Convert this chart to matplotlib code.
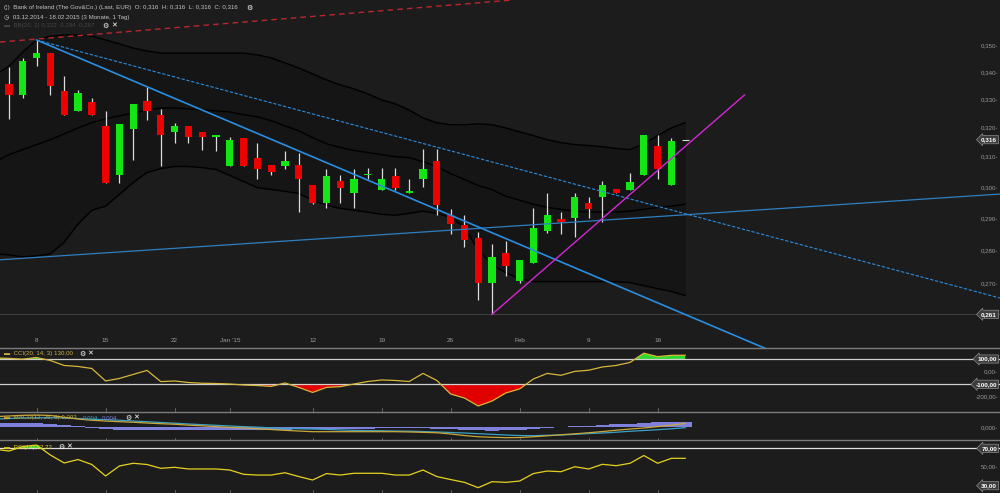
# Bank of Ireland daily candles with Bollinger bands, CCI, MACD and RSI panels
import numpy as np
import matplotlib
matplotlib.use('Agg')
import matplotlib.pyplot as plt
from matplotlib.lines import Line2D
from matplotlib.transforms import blended_transform_factory

plt.rcParams['font.family'] = ['Liberation Sans', 'DejaVu Sans']

nan = float('nan')

# trading days 03.12.2014 - 18.02.2015
dates = ['03.12.2014', '04.12.2014', '05.12.2014', '08.12.2014', '09.12.2014', '10.12.2014',
         '11.12.2014', '12.12.2014', '15.12.2014', '16.12.2014', '17.12.2014', '18.12.2014',
         '19.12.2014', '22.12.2014', '23.12.2014', '29.12.2014', '30.12.2014', '02.01.2015',
         '05.01.2015', '06.01.2015', '07.01.2015', '08.01.2015', '09.01.2015', '12.01.2015',
         '13.01.2015', '14.01.2015', '15.01.2015', '16.01.2015', '19.01.2015', '20.01.2015',
         '21.01.2015', '22.01.2015', '23.01.2015', '26.01.2015', '27.01.2015', '28.01.2015',
         '29.01.2015', '30.01.2015', '02.02.2015', '03.02.2015', '04.02.2015', '05.02.2015',
         '06.02.2015', '09.02.2015', '10.02.2015', '11.02.2015', '12.02.2015', '13.02.2015',
         '16.02.2015', '17.02.2015', '18.02.2015']

opens = [nan, 0.3358, 0.3318, 0.3456, 0.3475, 0.3333, 0.3259, 0.3294, 0.3206, 0.3040, 0.3198,
         0.3297, 0.3247, 0.3188, 0.3206, 0.3188, 0.3169, 0.3070, 0.3166, 0.3098, 0.3075,
         0.3070, 0.3075, 0.3006, 0.2948, 0.3020, 0.2980, 0.3040, 0.2991, 0.3037, 0.2980,
         0.3029, 0.3087, 0.2910, 0.2879, 0.2838, 0.2703, 0.2792, 0.2710, 0.2763, 0.2861,
         0.2897, 0.2900, 0.2948, 0.2970, 0.2996, 0.2991, 0.3039, 0.3140, 0.3009, 0.3160]
highs = [nan, 0.3422, 0.3454, 0.3523, 0.3475, 0.3388, 0.3336, 0.3308, 0.3259, 0.3215, 0.3286,
         0.3346, 0.3268, 0.3218, 0.3206, 0.3188, 0.3177, 0.3169, 0.3166, 0.3150, 0.3075,
         0.3120, 0.3115, 0.3006, 0.3061, 0.3039, 0.3061, 0.3065, 0.3065, 0.3065, 0.3029,
         0.3128, 0.3128, 0.2931, 0.2910, 0.2856, 0.2820, 0.2829, 0.2770, 0.2932, 0.2980,
         0.2920, 0.2980, 0.2970, 0.3020, 0.2996, 0.3047, 0.3177, 0.3177, 0.3166, 0.3160]
lows = [nan, 0.3232, 0.3308, 0.3425, 0.3318, 0.3247, 0.3259, 0.3247, 0.3014, 0.3014, 0.3090,
        0.3229, 0.3070, 0.3150, 0.3150, 0.3126, 0.3120, 0.3070, 0.3070, 0.3029, 0.3040,
        0.3059, 0.2920, 0.2945, 0.2932, 0.2948, 0.2932, 0.3026, 0.2991, 0.2991, 0.2980,
        0.3002, 0.2910, 0.2851, 0.2812, 0.2652, 0.2612, 0.2722, 0.2703, 0.2763, 0.2853,
        0.2851, 0.2843, 0.2900, 0.2888, 0.2980, 0.2991, 0.3039, 0.3029, 0.3009, 0.3160]
closes = [nan, 0.3318, 0.3443, 0.3475, 0.3349, 0.3247, 0.3326, 0.3247, 0.3014, 0.3215, 0.3286,
          0.3259, 0.3177, 0.3206, 0.3169, 0.3169, 0.3177, 0.3158, 0.3070, 0.3059, 0.3050,
          0.3089, 0.3029, 0.2948, 0.3037, 0.2998, 0.3028, 0.3042, 0.3026, 0.2998, 0.2988,
          0.3059, 0.2942, 0.2882, 0.2832, 0.2703, 0.2780, 0.2752, 0.2770, 0.2869, 0.2910,
          0.2890, 0.2969, 0.2931, 0.3007, 0.2980, 0.3018, 0.3177, 0.3059, 0.3157, 0.3160]

bb_upper = [0.3391, 0.3424, 0.3477, 0.3523, 0.3538, 0.3542, 0.3542, 0.3538, 0.3523, 0.3508, 0.3492,
            0.3481, 0.3473, 0.3473, 0.3473, 0.3473, 0.3473, 0.3473, 0.3473, 0.3466, 0.3455,
            0.3436, 0.3417, 0.3395, 0.3373, 0.3355, 0.3340, 0.3322, 0.3300, 0.3286, 0.3264,
            0.3236, 0.3219, 0.3212, 0.3212, 0.3215, 0.3212, 0.3201, 0.3187, 0.3174, 0.3160,
            0.3150, 0.3143, 0.3140, 0.3136, 0.3130, 0.3126, 0.3146, 0.3174, 0.3201, 0.3219]
bb_middle = [0.3085, 0.3109, 0.3126, 0.3143, 0.3160, 0.3180, 0.3201, 0.3219, 0.3233, 0.3243, 0.3254,
             0.3264, 0.3271, 0.3271, 0.3268, 0.3264, 0.3261, 0.3257, 0.3247, 0.3240, 0.3226,
             0.3208, 0.3191, 0.3167, 0.3146, 0.3133, 0.3123, 0.3116, 0.3109, 0.3102, 0.3099,
             0.3085, 0.3069, 0.3045, 0.3026, 0.3006, 0.2993, 0.2971, 0.2958, 0.2945, 0.2935,
             0.2929, 0.2923, 0.2920, 0.2920, 0.2920, 0.2923, 0.2929, 0.2935, 0.2939, 0.2945]
bb_lower = [0.2790, 0.2787, 0.2781, 0.2784, 0.2790, 0.2826, 0.2882, 0.2926, 0.2939, 0.2977, 0.3016,
            0.3049, 0.3062, 0.3069, 0.3069, 0.3065, 0.3059, 0.3039, 0.3019, 0.2999, 0.2993,
            0.2987, 0.2980, 0.2958, 0.2942, 0.2932, 0.2926, 0.2920, 0.2913, 0.2910, 0.2916,
            0.2923, 0.2916, 0.2903, 0.2872, 0.2802, 0.2757, 0.2733, 0.2715, 0.2707, 0.2707,
            0.2707, 0.2707, 0.2707, 0.2707, 0.2707, 0.2704, 0.2695, 0.2686, 0.2678, 0.2666]

cci = [109, 105, 99, 112, 88, 49, 41, 25, -74, -54, -22, 10, -79, -74, -86, -92, -94, -98,
       -106, -110, -117, -90, -125, -165, -125, -119, -98, -78, -66, -70, -78, -14, -70,
       -177, -209, -272, -233, -169, -137, -58, -14, -29, 2, 11, 37, 49, 73, 146, 119, 129, 130]

macd = [0.0080, 0.0085, 0.0090, 0.0092, 0.0089, 0.0075, 0.0062, 0.0053, 0.0047, 0.0042, 0.0038,
        0.0032, 0.0027, 0.0023, 0.0016, 0.0011, 0.0005, 0.0000, -0.0005, -0.0011, -0.0017,
        -0.0023, -0.0028, -0.0033, -0.0033, -0.0033, -0.0033, -0.0033, -0.0033, -0.0033, -0.0035,
        -0.0038, -0.0041, -0.0050, -0.0062, -0.0071, -0.0075, -0.0078, -0.0077, -0.0071, -0.0064,
        -0.0056, -0.0049, -0.0041, -0.0032, -0.0022, -0.0013, -0.0005, 0.0005, 0.0016, 0.0029]
macd_signal = [0.0062, 0.0066, 0.0070, 0.0071, 0.0072, 0.0070, 0.0066, 0.0061, 0.0057, 0.0053, 0.0047,
               0.0042, 0.0036, 0.0031, 0.0025, 0.0020, 0.0015, 0.0010, 0.0005, 0.0001, -0.0004,
               -0.0008, -0.0011, -0.0013, -0.0016, -0.0020, -0.0023, -0.0025, -0.0026, -0.0028, -0.0029,
               -0.0032, -0.0035, -0.0039, -0.0043, -0.0048, -0.0053, -0.0058, -0.0062, -0.0063, -0.0060,
               -0.0058, -0.0053, -0.0047, -0.0043, -0.0037, -0.0030, -0.0024, -0.0018, -0.0011, -0.0003]
macd_hist = [0.0030, 0.0030, 0.0030, 0.0030, 0.0025, 0.0015, 0.0010, -0.0005, -0.0015, -0.0020, -0.0020,
             -0.0020, -0.0020, -0.0020, -0.0020, -0.0020, -0.0020, -0.0020, -0.0020, -0.0020, -0.0020,
             -0.0018, -0.0015, -0.0015, -0.0015, -0.0010, -0.0010, -0.0010, -0.0008, -0.0005, -0.0003,
             -0.0005, -0.0010, -0.0015, -0.0020, -0.0023, -0.0025, -0.0023, -0.0018, -0.0010, -0.0003,
             0.0003, 0.0008, 0.0013, 0.0018, 0.0023, 0.0028, 0.0033, 0.0038, 0.0040, 0.0042]

rsi = [69.0, 67.1, 71.9, 73.5, 62.8, 54.3, 58.0, 52.7, 40.4, 51.1, 54.0, 52.7, 48.6, 49.7, 47.9,
       47.9, 47.9, 46.8, 42.2, 41.4, 41.4, 43.9, 39.8, 36.1, 43.0, 41.4, 43.3, 43.3, 43.3, 41.4,
       41.4, 46.8, 39.8, 36.6, 33.6, 27.9, 34.3, 33.6, 35.0, 43.0, 45.7, 45.0, 50.3, 47.9, 52.9,
       51.4, 54.0, 62.3, 54.0, 59.3, 59.3]

# date axis labels (index into dates)
tick_pos = [3, 8, 13, 17, 23, 28, 33, 38, 43, 48]
tick_text = ['8', '15', '22', "Jan '15", '12', '19', '26', 'Feb', '9', '16']

price_ticks = [0.27, 0.28, 0.29, 0.30, 0.31, 0.32, 0.33, 0.34, 0.35]

# drawn trend lines: (bar index, price) anchors
trend_red = [(0.35, 0.3515), (36.6, 0.3676)]
trend_up_blue = [(0.35, 0.2772), (72.8, 0.2978)]
trend_down_solid = [(3, 0.3523), (59, 0.2466)]
trend_down_dashed = [(3, 0.3523), (72.8, 0.2659)]
trend_magenta = [(36, 0.2612), (54.3, 0.3318)]

BG = '#1c1c1c'
GRAY = '#9a9a9a'
W, H = 1000.0, 493.0


def fmt(v, d=3):
    return f'{v:.{d}f}'.replace('.', ',')


def fx(px):
    return px / W


def fy(py):
    return 1 - py / H


def panel(top, bottom):
    return [0, 1 - bottom / H, 1, (bottom - top) / H]


fig = plt.figure(figsize=(10, 4.93), dpi=100, facecolor=BG)
ax = fig.add_axes(panel(0, 348))
ax_cci = fig.add_axes(panel(348, 412), sharex=ax)
ax_macd = fig.add_axes(panel(412, 440), sharex=ax)
ax_rsi = fig.add_axes(panel(440, 493), sharex=ax)
for a in (ax, ax_cci, ax_macd, ax_rsi):
    a.axis('off')

x = np.arange(len(dates))
o, h, l, c = (np.array(v, dtype=float) for v in (opens, highs, lows, closes))

# ---- price panel
ax.set_yscale('log')
ax.set_xlim(0.348, 72.81)
ax.set_ylim(0.25178, 0.36800)

ax.fill_between(x, bb_upper, bb_lower, color='#151515', lw=0, zorder=1)
for band in (bb_upper, bb_middle, bb_lower):
    ax.plot(x, band, color='#000000', lw=1.0, zorder=2)

low_price = np.nanmin(l)
ax.axhline(low_price, color='#3e3e3e', lw=0.8, zorder=1)

for i in range(len(x)):
    if np.isnan(o[i]):
        continue
    ax.vlines(x[i], l[i], h[i], color='#dcdcdc', lw=0.9, zorder=3)
    if abs(c[i] - o[i]) < 1e-6:
        ax.hlines(o[i], x[i] - 0.25, x[i] + 0.25, color='#dcdcdc', lw=0.8, zorder=4)
        continue
    col = '#14e614' if c[i] > o[i] else '#ec0000'
    lo, hi = min(o[i], c[i]), max(o[i], c[i])
    hi = max(hi, lo * 1.0018)
    ax.bar(x[i], hi - lo, bottom=lo, width=0.52, color=col, lw=0, zorder=4)

(x1, y1), (x2, y2) = trend_red
ax.axline((x1, y1), (x2, y2), color='#b8282c', lw=1.0, ls=(0, (4, 3)), zorder=5)
(x1, y1), (x2, y2) = trend_up_blue
ax.axline((x1, y1), (x2, y2), color='#2f7fc0', lw=0.9, zorder=5)
ax.plot(*zip(*trend_down_solid), color='#2b8de0', lw=1.2, zorder=5)
ax.plot(*zip(*trend_down_dashed), color='#2b8de0', lw=0.8, ls=(0, (3, 1.5)), zorder=5)
ax.plot(*zip(*trend_magenta), color='#d228d2', lw=1.0, zorder=5)

ytr = ax.get_yaxis_transform()
for v in price_ticks:
    ax.text(0.998, v, fmt(v) + '-', transform=ytr, ha='right', va='center',
            color=GRAY, fontsize=4.4)

box = dict(boxstyle='larrow,pad=0.25', fc='#3c3c3c', ec='#8c8c8c', lw=0.5)
for v in (c[-1], low_price):
    ax.text(0.997, v, fmt(v), transform=ytr, ha='right', va='center', color='white',
            fontsize=4.6, fontweight='bold', bbox=box, zorder=6)

xtr = blended_transform_factory(ax.transData, ax.transAxes)
for p, t in zip(tick_pos, tick_text):
    ax.text(p, (348 - 341) / 348, t, transform=xtr, ha='center', va='center',
            color=GRAY, fontsize=4.6)

# ---- CCI panel
ax_cci.set_ylim(-319.8, 187.3)
cci_a = np.array(cci, dtype=float)
ax_cci.fill_between(x, cci_a, 100, where=cci_a > 100, interpolate=True, color='#2ed82e', lw=0)
ax_cci.fill_between(x, cci_a, -100, where=cci_a < -100, interpolate=True, color='#e00000', lw=0)
for lev in (100, -100):
    ax_cci.axhline(lev, color='#d0d0d0', lw=0.9)
ax_cci.plot(x, cci_a, color='#d8b83a', lw=0.9)
ctr = ax_cci.get_yaxis_transform()
for v in (100, -100):
    ax_cci.text(0.997, v, fmt(v, 2), transform=ctr, ha='right', va='center', color='white',
                fontsize=4.6, fontweight='bold', bbox=box)
for v in (0, -200):
    ax_cci.text(0.998, v, fmt(v, 2) + '-', transform=ctr, ha='right', va='center',
                color=GRAY, fontsize=4.4)

# ---- MACD panel
ax_macd.set_ylim(-0.00955, 0.0115)
ax_macd.bar(x, macd_hist, width=1.0, color='#7f7fdc', lw=0, zorder=1)
ax_macd.plot(x, macd_signal, color='#3aa2c8', lw=0.9, zorder=2)
ax_macd.plot(x, macd, color='#c9a83a', lw=0.9, zorder=3)
ax_macd.text(0.998, 0, fmt(0) + '-', transform=ax_macd.get_yaxis_transform(), ha='right',
             va='center', color=GRAY, fontsize=4.4)

# ---- RSI panel
ax_rsi.set_ylim(22.2, 78.9)
rsi_a = np.array(rsi)
ax_rsi.fill_between(x, rsi_a, 70, where=rsi_a > 70, interpolate=True, color='#2ed82e', lw=0)
ax_rsi.axhline(70, color='#e0e0e0', lw=0.9)
ax_rsi.plot(x, rsi_a, color='#e6d21e', lw=0.9)
rtr = ax_rsi.get_yaxis_transform()
for v in (70, 30):
    ax_rsi.text(0.997, v, fmt(v, 2), transform=rtr, ha='right', va='center', color='white',
                fontsize=4.6, fontweight='bold', bbox=box)
ax_rsi.text(0.998, 50, fmt(50, 2) + '-', transform=rtr, ha='right', va='center',
            color=GRAY, fontsize=4.4)

# ---- separators and small date ticks
for py in (348, 412, 440):
    fig.add_artist(Line2D([0, 1], [fy(py)] * 2, color='#7c7c7c', lw=1.0))
for a in (ax_cci, ax_macd, ax_rsi):
    ttr = blended_transform_factory(a.transData, a.transAxes)
    for p in tick_pos:
        a.plot([p, p], [0, 0.06], color='#6a6a6a', lw=0.6, transform=ttr, clip_on=False)

# ---- header texts
hdr = dict(fontsize=4.4, va='center', ha='left')
fig.text(fx(4), fy(8), '(¦)  Bank of Ireland (The Gov&Co.) (Last, EUR)  '
         f'O: {fmt(o[-1])}  H: {fmt(h[-1])}  L: {fmt(l[-1])}  C: {fmt(c[-1])}',
         color='#c4c4c4', **hdr)
fig.text(fx(246), fy(8), '⚙', color='white', fontsize=5, va='center', ha='left')
fig.text(fx(4), fy(17), f'◷  {dates[0]} - {dates[-1]} (3 Monate, 1 Tag)', color='#c4c4c4', **hdr)
fig.text(fx(4), fy(26), f'▬  BB(20, 2) {fmt(bb_upper[-1])}  {fmt(bb_middle[-1])}  {fmt(bb_lower[-1])}',
         color='#464646', **hdr)
fig.text(fx(102), fy(26), '⚙', color='white', fontsize=5, va='center', ha='left')
fig.text(fx(111), fy(26), '✕', color='white', fontsize=5, va='center', ha='left')

fig.text(fx(4), fy(354), f'▬  CCI(20, 14, 3) {fmt(cci[-1], 2)}', color='#c8b040', **hdr)
fig.text(fx(79), fy(354), '⚙', color='white', fontsize=5, va='center', ha='left')
fig.text(fx(87), fy(354), '✕', color='white', fontsize=5, va='center', ha='left')

t = fig.text(fx(4), fy(418), '▬  MACD(12, 26, 9) 0,003', color='#c8b040', **hdr)
fig.text(fx(83), fy(418), '0,004', color='#3aa2c8', **hdr)
fig.text(fx(102), fy(418), '0,004', color='#7f7fdc', **hdr)
fig.text(fx(125), fy(418), '⚙', color='white', fontsize=5, va='center', ha='left')
fig.text(fx(133), fy(418), '✕', color='white', fontsize=5, va='center', ha='left')

fig.text(fx(4), fy(447), '▬  RSI(14) 62,22', color='#e6d21e', **hdr)
fig.text(fx(58), fy(447), '⚙', color='white', fontsize=5, va='center', ha='left')
fig.text(fx(66), fy(447), '✕', color='white', fontsize=5, va='center', ha='left')

fig.savefig('out.png', dpi=100, facecolor=BG)
